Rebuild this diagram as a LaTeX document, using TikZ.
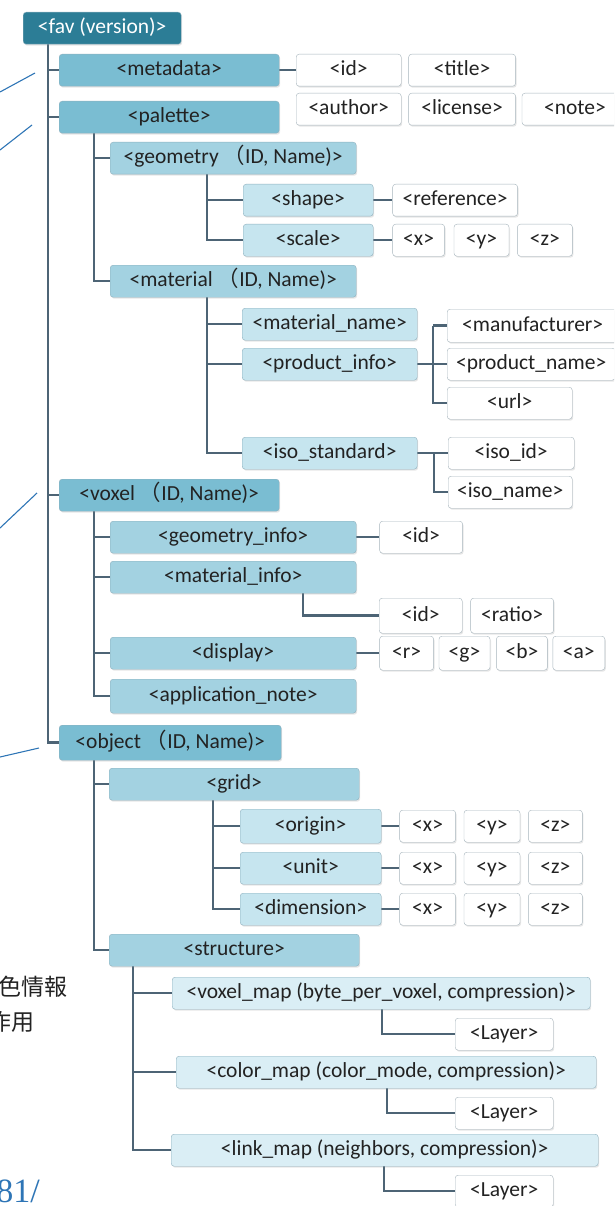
\documentclass[tikz,border=0pt]{standalone}
\usepackage{fontspec}
\newfontfamily\boxfont{Carlito}
\newfontfamily\jpfont{Noto Sans CJK JP}
\newfontfamily\pagefont{Liberation Serif}
\usetikzlibrary{positioning,shadows,backgrounds}
\definecolor{rootblue}{HTML}{2C7D96}
\definecolor{blueA}{HTML}{7ABDD2}
\definecolor{blueB}{HTML}{A3D2E1}
\definecolor{blueC}{HTML}{C6E5EF}
\definecolor{blueD}{HTML}{DAEEF5}
\definecolor{boxline}{HTML}{8FB0BE}
\definecolor{leafline}{HTML}{A6B4BC}
\definecolor{connline}{HTML}{4D6475}
\definecolor{textgray}{HTML}{222222}
\definecolor{calloutblue}{HTML}{2E75B6}
\newcommand\flp{{\jpfont（}}
\tikzset{
  box/.style={draw=boxline, rounded corners=3pt, inner sep=0pt,
    minimum height=32pt, anchor=north west, text=textgray,
    font=\boxfont\fontsize{21.5}{25}\selectfont,
    text height=14pt, text depth=3pt,
    drop shadow={shadow xshift=1pt, shadow yshift=-1.5pt, opacity=0.2}},
  lvl0/.style={box, fill=rootblue, text=white},
  lvl1/.style={box, fill=blueA, minimum width=220pt},
  lvl2/.style={box, fill=blueB, minimum width=246pt},
  lvl3/.style={box, fill=blueC},
  lvl4/.style={box, fill=blueD},
  leaf/.style={box, fill=white, draw=leafline},
  conn/.style={draw=connline, line width=2.5pt},
  callout/.style={draw=calloutblue, line width=1.1pt},
  jptext/.style={font=\jpfont\fontsize{23}{27}\selectfont, text=textgray,
    inner sep=0pt, anchor=east}
}
\begin{document}
\begin{tikzpicture}[x=1pt,y=-1pt]
\useasboundingbox (0,0) rectangle (614,1206);
\clip (0,0) rectangle (614,1206);

% tree nodes
\node[lvl0, minimum width=158pt] (fav) at (23,12) {<fav (version)>};
\node[lvl1] (metadata) at (59,54) {<metadata>};
\node[lvl1] (palette) at (59,101) {<palette>};
\node[lvl2] (geometry) at (110,142) {<geometry \flp ID, Name)>};
\node[lvl3, minimum width=130pt] (shape) at (243,184) {<shape>};
\node[lvl3, minimum width=130pt] (scale) at (243,224) {<scale>};
\node[lvl2] (material) at (110,265) {<material \flp ID, Name)>};
\node[lvl3, minimum width=175pt] (matname) at (242,308) {<material\_name>};
\node[lvl3, minimum width=175pt] (prodinfo) at (242,348) {<product\_info>};
\node[lvl3, minimum width=175pt] (isostd) at (242,437) {<iso\_standard>};
\node[lvl1] (voxel) at (59,479) {<voxel \flp ID, Name)>};
\node[lvl2] (geominfo) at (110,521) {<geometry\_info>};
\node[lvl2] (matinfo) at (110,561) {<material\_info>};
\node[lvl2] (display) at (110,637) {<display>};
\node[lvl2, minimum height=34pt] (appnote) at (110,679) {<application\_note>};
\node[lvl1, minimum width=222pt, minimum height=35pt] (object) at (59,725) {<object \flp ID, Name)>};
\node[lvl2, minimum width=250pt] (grid) at (109,768) {<grid>};
\node[lvl3, minimum width=141pt, minimum height=34pt] (origin) at (240,809) {<origin>};
\node[lvl3, minimum width=141pt] (unit) at (240,852) {<unit>};
\node[lvl3, minimum width=141pt] (dimension) at (240,893) {<dimension>};
\node[lvl2, minimum width=250pt] (structure) at (109,934) {<structure>};
\node[lvl4, minimum width=418pt] (voxelmap) at (172,977) {<voxel\_map (byte\_per\_voxel, compression)>};
\node[lvl4, minimum width=420pt] (colormap) at (176,1056) {<color\_map (color\_mode, compression)>};
\node[lvl4, minimum width=427pt] (linkmap) at (171,1134) {<link\_map (neighbors, compression)>};

% leaves
\node[leaf, minimum width=105pt] (mdid) at (296,54) {<id>};
\node[leaf, minimum width=107pt, right=7pt of mdid] (mdtitle) {<title>};
\node[leaf, minimum width=105pt] (mdauthor) at (296,93) {<author>};
\node[leaf, minimum width=107pt, right=7pt of mdauthor] (mdlicense) {<license>};
\node[leaf, minimum width=106pt, right=6pt of mdlicense] (mdnote) {<note>};
\node[leaf, minimum width=125pt, right=19pt of shape] (reference) {<reference>};
\node[leaf, minimum width=52pt, right=19pt of scale] (scx) {<x>};
\node[leaf, minimum width=55pt, right=9pt of scx] (scy) {<y>};
\node[leaf, minimum width=55pt, right=8pt of scy] (scz) {<z>};
\node[leaf, minimum width=171pt, minimum height=33pt] (manuf) at (447,309) {<manufacturer>};
\node[leaf, minimum width=168pt] (prodname) at (447,348) {<product\_name>};
\node[leaf, minimum width=125pt] (url) at (447,387) {<url>};
\node[leaf, minimum width=126pt] (isoid) at (448,437) {<iso\_id>};
\node[leaf, minimum width=124pt] (isoname) at (448,476) {<iso\_name>};
\node[leaf, minimum width=83pt, right=23pt of geominfo] (giid) {<id>};
\node[leaf, minimum width=83pt, minimum height=35pt] (miid) at (379,598) {<id>};
\node[leaf, minimum width=83pt, minimum height=35pt, right=8pt of miid] (miratio) {<ratio>};
\node[leaf, minimum width=54pt, minimum height=34pt, right=23pt of display] (dr) {<r>};
\node[leaf, minimum width=51pt, minimum height=34pt, right=5pt of dr] (dg) {<g>};
\node[leaf, minimum width=51pt, minimum height=34pt, right=6pt of dg] (db) {<b>};
\node[leaf, minimum width=52pt, minimum height=34pt, right=5pt of db] (da) {<a>};
\foreach \row/\r in {origin/or, unit/un, dimension/di} {
  \node[leaf, minimum width=56pt, minimum height=32pt, right=18pt of \row] (\r x) {<x>};
  \node[leaf, minimum width=56pt, minimum height=32pt, right=8pt of \r x] (\r y) {<y>};
  \node[leaf, minimum width=54pt, minimum height=32pt, right=8pt of \r y] (\r z) {<z>};
}
\node[leaf, minimum width=98pt] (layer1) at (455,1018) {<Layer>};
\node[leaf, minimum width=98pt] (layer2) at (455,1097) {<Layer>};
\node[leaf, minimum width=98pt] (layer3) at (455,1175) {<Layer>};

% connectors
\begin{scope}[on background layer]
\foreach \n in {metadata,palette,voxel,object}
  \draw[conn] ([xshift=25pt]fav.south west) |- (\n.west);
\foreach \n in {geometry,material}
  \draw[conn] ([xshift=35pt]palette.south west) |- (\n.west);
\foreach \n in {shape,scale}
  \draw[conn] ([xshift=97pt]geometry.south west) |- (\n.west);
\foreach \n in {matname,prodinfo,isostd}
  \draw[conn] ([xshift=97pt]material.south west) |- (\n.west);
\foreach \n in {geominfo,matinfo,display,appnote}
  \draw[conn] ([xshift=35pt]voxel.south west) |- (\n.west);
\foreach \n in {grid,structure}
  \draw[conn] ([xshift=35pt]object.south west) |- (\n.west);
\foreach \n in {origin,unit,dimension}
  \draw[conn] ([xshift=104pt]grid.south west) |- (\n.west);
\foreach \n in {voxelmap,colormap,linkmap}
  \draw[conn] ([xshift=24pt]structure.south west) |- (\n.west);
\draw[conn] ([xshift=193pt]matinfo.south west) |- (miid.west);
\draw[conn] ([xshift=210pt]voxelmap.south west) |- (layer1.west);
\draw[conn] ([xshift=211pt]colormap.south west) |- (layer2.west);
\draw[conn] ([xshift=213pt]linkmap.south west) |- (layer3.west);
\draw[conn] (metadata.east) -- (mdid.west);
\draw[conn] (shape.east) -- (reference.west);
\draw[conn] (scale.east) -- (scx.west);
\draw[conn] (prodinfo.east) -- (prodinfo.east -| prodname.west);
\draw[conn] ([xshift=-14pt]manuf.west) -- (manuf.west);
\draw[conn] ([xshift=-14pt]manuf.west) |- (url.west);
\draw[conn] (isostd.east) -- (isostd.east -| isoid.west);
\draw[conn] ([xshift=-14pt]isoid.west) |- (isoname.west);
\draw[conn] (geominfo.east) -- (giid.west);
\draw[conn] (display.east) -- (dr.west);
\draw[conn] (origin.east) -- (orx.west);
\draw[conn] (unit.east) -- (unx.west);
\draw[conn] (dimension.east) -- (dix.west);
\end{scope}

% cut-off slide parts on the left
\draw[callout] (0,92) -- (35,73);
\draw[callout] (0,150) -- (32,125);
\draw[callout] (0,528) -- (37,493);
\draw[callout] (0,757) -- (39,748);
\node[jptext] (jpa) at (68,987) {色情報};
\node[jptext] (jpb) at (35,1022) {作用};
\node[font=\pagefont\fontsize{34}{38}\selectfont, text=calloutblue,
  inner sep=0pt, anchor=base east] (pageno) at (40,1202) {81/};
\end{tikzpicture}
\end{document}
